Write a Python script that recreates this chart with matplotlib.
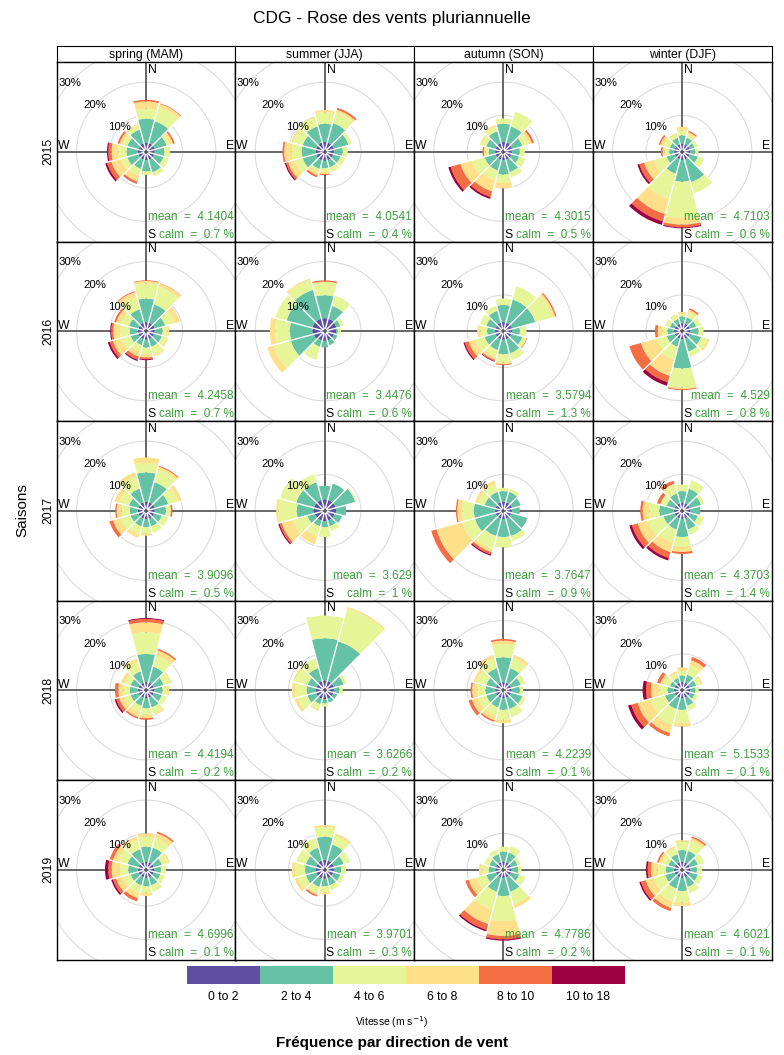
import matplotlib.pyplot as plt
import numpy as np
from matplotlib.patches import Wedge, Circle, Rectangle

plt.rcParams['font.family'] = ['Liberation Sans', 'DejaVu Sans']

# Data: wind roses, cumulative % per 30 degree sector (N, 30, 60, ... 330)
# each row = cumulative frequency at the top of each speed bin
seasons = ['spring (MAM)', 'summer (JJA)', 'autumn (SON)', 'winter (DJF)']
years = ['2015', '2016', '2017', '2018', '2019']
speed_bins = ['0 to 2', '2 to 4', '4 to 6', '6 to 8', '8 to 10', '10 to 18']
colours = ['#5E4FA2', '#66C2A5', '#E6F598', '#FEE08B', '#F46D43', '#9E0142']
directions = np.arange(0, 360, 30)

mean_speed = [[4.1404, 4.0541, 4.3015, 4.7103],
              [4.2458, 3.4476, 3.5794, 4.529],
              [3.9096, 3.629, 3.7647, 4.3703],
              [4.4194, 3.6266, 4.2239, 5.1533],
              [4.6996, 3.9701, 4.7786, 4.6021]]
calm_pct = [['0.7', '0.4', '0.5', '0.6'],
            ['0.7', '0.6', '1.3', '0.8'],
            ['0.5', '1', '0.9', '1.4'],
            ['0.2', '0.2', '0.1', '0.1'],
            ['0.1', '0.3', '0.2', '0.1']]

spring_2015 = [[1.8, 9.0, 12.0, 14.2, 14.7], [1.8, 8.6, 13.0, 14.0, 14.2], [1.8, 5.5, 6.5, 7.5, 8.0],
               [1.6, 4.5, 6.0, 6.3], [1.6, 4.5, 5.8, 6.1], [1.6, 5.5, 6.8],
               [1.6, 5.0, 6.0, 6.1], [1.6, 4.5, 6.5, 8.4, 9.0, 9.1], [1.6, 5.0, 7.0, 10.0, 11.3, 11.9],
               [1.6, 5.0, 7.5, 9.5, 10.5, 10.9], [1.6, 5.0, 6.5, 7.5, 8.1], [1.8, 6.0, 7.5, 7.8]]
summer_2015 = [[2.0, 7.5, 11.0, 11.6], [2.0, 8.0, 11.5, 12.2, 12.8], [2.0, 6.5, 7.5],
               [1.8, 4.5, 6.0], [1.8, 4.0, 5.5], [1.8, 4.0, 5.5],
               [1.8, 4.0, 5.2, 5.8, 6.1], [1.8, 4.5, 5.5, 6.5, 7.1], [1.8, 6.0, 8.5, 10.5, 11.2, 11.6],
               [1.8, 6.0, 9.0, 11.3, 11.8], [1.8, 6.0, 9.0, 9.6], [2.0, 7.0, 10.0]]
autumn_2015 = [[2.0, 7.5, 9.1], [2.0, 7.0, 11.6], [1.8, 5.0, 7.0, 8.0, 8.6],
               [1.6, 4.0, 5.5], [1.6, 4.0, 6.0], [1.6, 5.5, 7.0, 7.1],
               [1.6, 6.0, 8.5, 10.1], [1.6, 5.0, 8.0, 11.5, 13.2, 13.8], [1.6, 5.0, 9.0, 12.5, 15.6, 16.3],
               [1.6, 3.5, 4.5, 5.0, 5.4], [1.6, 4.5, 6.0, 6.5], [1.8, 5.5, 7.0, 7.5]]
winter_2015 = [[1.5, 4.0, 5.5, 6.6], [1.5, 3.5, 4.5, 5.2, 5.6], [1.5, 3.0, 4.0],
               [1.5, 3.0, 4.0], [1.5, 4.0, 6.0], [1.5, 8.6, 12.0],
               [1.5, 8.1, 19.0, 21.0, 21.8, 22.1], [1.5, 6.0, 13.8, 18.5, 20.8, 21.9], [1.5, 4.0, 8.0, 11.0, 12.5, 13.1],
               [1.5, 3.0, 4.5, 5.0, 5.5], [1.5, 3.0, 5.0, 6.0, 6.5], [1.5, 3.5, 4.5, 5.0]]

spring_2016 = [[1.8, 8.9, 13.5, 14.2, 14.4], [1.8, 7.5, 13.0, 14.0, 14.1], [1.8, 5.0, 8.0, 9.6],
               [1.6, 4.0, 5.5, 6.0], [1.6, 4.0, 5.5, 6.0], [1.6, 4.0, 6.5, 7.0],
               [1.6, 4.0, 6.0, 7.0, 7.5, 7.8], [1.6, 3.5, 5.5, 7.0, 8.0, 8.4], [1.6, 4.0, 7.0, 9.5, 10.5, 11.1],
               [1.6, 4.0, 7.0, 9.0, 9.6, 9.9], [1.6, 4.5, 7.0, 8.5, 9.1], [1.8, 6.0, 10.0, 11.3, 11.6]]
summer_2016 = [[3.0, 9.9, 14.0, 14.0, 14.4], [3.0, 7.0, 10.1], [2.8, 4.0, 5.0],
               [2.5, 3.0, 4.0], [2.0, 3.1], [2.0, 3.5],
               [2.0, 4.0], [2.0, 4.0, 8.0, 8.1], [2.5, 9.7, 15.0, 17.0],
               [2.8, 9.6, 14.0, 15.6], [3.0, 11.0, 14.5], [3.0, 12.0, 15.0, 15.5]]
autumn_2016 = [[1.8, 7.0, 8.9], [1.8, 9.0, 13.1], [1.8, 9.0, 14.5, 15.2, 15.6],
               [1.6, 4.0, 6.0], [1.6, 5.0, 6.3, 6.3, 6.5], [1.6, 6.0, 8.1],
               [1.6, 6.0, 8.5, 9.0, 9.3], [1.6, 5.0, 7.0, 8.0, 8.4, 8.6], [1.6, 5.0, 8.0, 10.0, 11.2, 11.6],
               [1.6, 4.0, 6.0, 7.0], [1.6, 4.5, 6.5], [1.8, 5.5, 7.0]]
winter_2016 = [[1.5, 3.5, 4.5, 4.9], [1.5, 3.5, 5.0, 5.8, 6.3], [1.5, 3.5, 5.0],
               [1.5, 4.0, 5.5], [1.5, 5.0, 7.0, 7.6], [1.5, 5.5, 7.1],
               [1.5, 10.3, 16.0, 16.5, 16.8], [1.5, 4.0, 8.0, 13.0, 15.0, 16.1], [1.5, 4.0, 7.0, 12.0, 15.6],
               [1.5, 3.5, 5.0, 6.5, 7.3], [1.5, 3.0, 4.5], [1.5, 3.0, 4.5]]

spring_2017 = [[1.8, 10.6, 13.5, 15.1], [1.8, 8.0, 12.0, 12.8, 13.1], [1.8, 6.0, 9.0, 10.1],
               [1.6, 5.0, 6.5, 6.5, 7.0], [1.6, 4.0, 6.0], [1.6, 4.0, 6.0],
               [1.6, 4.0, 6.0, 6.6], [1.6, 4.0, 6.5, 7.6], [1.6, 4.0, 7.0, 9.5, 10.6],
               [1.6, 4.0, 6.5, 8.0, 8.4], [1.6, 4.5, 7.5, 9.0], [1.8, 6.0, 10.0, 11.1]]
summer_2017 = [[2.5, 6.6], [2.5, 7.6], [2.5, 8.6, 9.0],
               [2.5, 5.5], [2.2, 4.5], [2.2, 4.0, 5.5],
               [2.2, 4.0, 7.0], [2.2, 4.0, 7.0, 9.6], [2.2, 4.5, 9.0, 12.5, 13.2, 13.6],
               [2.5, 7.5, 13.0, 13.7], [2.5, 8.0, 13.0], [2.5, 8.0, 10.5]]
autumn_2017 = [[1.8, 5.0, 6.0], [1.8, 5.0, 6.0], [1.8, 4.5],
               [1.6, 4.0], [1.6, 6.6], [1.6, 7.0, 8.6],
               [1.6, 7.0, 10.1], [1.6, 7.0, 11.0, 12.0, 12.7, 13.1], [1.6, 8.0, 12.0, 20.0, 21.6],
               [1.6, 8.0, 11.5, 13.0, 13.4], [1.6, 5.0, 7.0, 8.0], [1.8, 5.0, 7.5, 8.5]]
winter_2017 = [[1.5, 5.0, 7.0], [1.5, 6.0, 8.6], [1.5, 5.0, 6.0],
               [1.5, 4.5], [1.5, 4.0, 6.0], [1.5, 5.0, 6.6],
               [1.5, 7.0, 10.0, 11.5, 12.1], [1.5, 5.0, 9.0, 12.0, 13.8, 14.6], [1.5, 5.0, 10.0, 13.0, 14.8, 15.6],
               [1.5, 6.0, 9.0, 11.0, 11.7], [1.5, 4.0, 6.0, 6.0, 7.0], [1.5, 4.5, 7.5, 7.5, 8.5]]

spring_2018 = [[1.5, 10.0, 16.5, 19.5, 20.5, 20.8], [1.5, 6.5, 10.0, 11.5, 12.0], [1.5, 4.5, 6.5, 7.0],
               [1.5, 4.0, 5.5, 6.0], [1.5, 4.0, 5.5], [1.5, 4.5, 6.5, 7.0],
               [1.5, 4.5, 6.5, 7.5, 8.0], [1.5, 4.0, 6.0, 7.5, 8.0], [1.5, 4.0, 6.0, 7.5, 8.5, 9.0],
               [1.5, 4.0, 6.0, 7.5, 8.5], [1.5, 4.0, 6.0, 7.0], [1.5, 5.0, 8.0, 9.0]]
summer_2018 = [[2.0, 14.7, 21.5, 21.5], [2.0, 14.3, 24.5, 25.0], [2.0, 5.0, 6.0],
               [1.8, 3.5, 4.5], [1.8, 3.0], [1.8, 3.0],
               [1.8, 3.0, 4.0], [1.8, 3.5, 5.0, 5.5], [1.8, 4.5, 7.5, 8.5],
               [1.8, 4.5, 8.0, 9.0], [1.8, 4.5, 8.5, 9.0], [2.0, 6.0, 9.0]]
autumn_2018 = [[1.5, 9.0, 13.0, 14.0, 14.5], [1.5, 6.0, 9.0, 10.0], [1.5, 4.5, 6.0],
               [1.5, 4.0, 5.0], [1.5, 5.0, 6.0], [1.5, 5.0, 7.5],
               [1.5, 5.0, 8.0, 9.0], [1.5, 4.5, 7.0, 8.5, 9.0], [1.5, 4.5, 7.0, 9.0, 10.0],
               [1.5, 4.5, 7.0, 8.5, 9.0], [1.5, 4.5, 7.5, 8.5], [1.5, 6.0, 9.0, 10.0]]
winter_2018 = [[1.5, 3.5, 5.0, 6.0], [1.5, 4.0, 7.0, 8.5, 9.5], [1.5, 3.5, 5.0, 5.5],
               [1.5, 3.0, 4.0], [1.5, 3.0, 4.0], [1.5, 4.0, 5.5],
               [1.5, 5.0, 9.0, 10.0], [1.5, 5.0, 10.0, 12.5, 13.5], [1.5, 4.5, 9.0, 13.0, 15.0, 16.0],
               [1.5, 3.5, 6.0, 8.5, 10.0, 11.0], [1.5, 3.0, 5.0, 6.0, 7.0], [1.5, 3.0, 4.5, 5.0]]

spring_2019 = [[1.5, 6.0, 9.0, 10.0], [1.5, 6.0, 9.0, 10.5, 11.0], [1.5, 4.0, 6.0, 6.5],
               [1.5, 3.5, 5.0], [1.5, 3.5, 5.0], [1.5, 4.0, 6.0],
               [1.5, 4.0, 6.0, 7.0], [1.5, 4.0, 6.5, 8.0, 9.0], [1.5, 4.0, 6.5, 8.5, 9.5, 10.0],
               [1.5, 4.5, 7.0, 9.5, 10.5, 11.5], [1.5, 5.0, 8.0, 9.5, 10.5], [1.5, 5.5, 8.5, 9.5]]
summer_2019 = [[2.0, 9.0, 12.0, 12.5], [2.0, 7.0, 10.0, 10.5], [2.0, 5.0, 7.0],
               [1.8, 4.0, 5.5], [1.8, 4.0, 5.0], [1.8, 4.0, 5.5],
               [1.8, 4.0, 6.0, 6.5], [1.8, 4.5, 6.5, 7.0, 7.5], [1.8, 5.0, 7.5, 8.5],
               [1.8, 5.0, 8.0, 9.0], [1.8, 5.0, 8.0], [2.0, 6.0, 9.0]]
autumn_2019 = [[1.5, 4.5, 6.0], [1.5, 4.5, 6.5], [1.5, 3.5, 4.5],
               [1.5, 3.5, 4.5], [1.5, 4.0, 6.0], [1.5, 6.0, 10.0, 11.0],
               [1.5, 7.0, 14.5, 19.0, 20.0, 20.4], [1.5, 6.0, 11.5, 16.0, 17.8, 18.3], [1.5, 4.5, 7.5, 10.0, 11.0],
               [1.5, 3.5, 5.5, 6.5], [1.5, 3.5, 5.0], [1.5, 4.0, 5.5]]
winter_2019 = [[1.5, 5.0, 7.5, 8.0], [1.5, 5.0, 8.0, 9.0, 9.5], [1.5, 4.0, 6.0],
               [1.5, 3.5, 5.0], [1.5, 4.0, 5.5], [1.5, 4.5, 6.5],
               [1.5, 5.5, 9.0, 10.0], [1.5, 5.0, 9.0, 11.0, 12.0], [1.5, 4.5, 8.0, 10.5, 12.0, 12.5],
               [1.5, 4.0, 6.5, 8.5, 9.5, 10.0], [1.5, 3.5, 5.5, 6.5, 7.0], [1.5, 4.0, 6.0, 6.5]]

roses = [[spring_2015, summer_2015, autumn_2015, winter_2015],
         [spring_2016, summer_2016, autumn_2016, winter_2016],
         [spring_2017, summer_2017, autumn_2017, winter_2017],
         [spring_2018, summer_2018, autumn_2018, winter_2018],
         [spring_2019, summer_2019, autumn_2019, winter_2019]]

# Layout (pixels of the 784x1055 output)
W, H = 784, 1055
col_x = [57, 235.5, 414, 593, 771.5]
row_y = [62, 241.5, 421, 600.5, 780, 959.5]
px = 3.33    # pixels per percent
hole = 0.9   # centre hole, in percent units
green = '#3f9f3f'


def rect(x0, y0, x1, y1):
    return [x0 / W, 1 - y1 / H, (x1 - x0) / W, (y1 - y0) / H]


fig = plt.figure(figsize=(7.84, 10.55), dpi=100)

fig.text(0.5, 1 - 18 / H, 'CDG - Rose des vents pluriannuelle', ha='center', va='center', fontsize=12.5)
fig.text(22 / W, 1 - 510 / H, 'Saisons', rotation=90, ha='center', va='center', fontsize=11)

# strips
for j, s in enumerate(seasons):
    sax = fig.add_axes(rect(col_x[j], 46, col_x[j + 1], row_y[0]))
    sax.set_xticks([]); sax.set_yticks([])
    sax.text(0.5, 0.45, s, ha='center', va='center', fontsize=8.8, transform=sax.transAxes)
for i, y in enumerate(years):
    fig.text(48 / W, 1 - (row_y[i] + row_y[i + 1]) / 2 / H, y, rotation=90,
             ha='center', va='center', fontsize=8.8)

for i in range(len(years)):
    for j in range(len(seasons)):
        x0, x1 = col_x[j], col_x[j + 1]
        y0, y1 = row_y[i], row_y[i + 1]
        ax = fig.add_axes(rect(x0, y0, x1, y1))
        hw = (x1 - x0) / 2 / px
        hh = (y1 - y0) / 2 / px
        ax.set_xlim(-hw, hw)
        ax.set_ylim(-hh, hh)
        ax.set_xticks([]); ax.set_yticks([])

        for p in (10, 20, 30):
            ax.add_patch(Circle((0, 0), hole + p, fill=False, ec='#dcdcdc', lw=0.8, zorder=1))
            a = np.deg2rad(138)
            ax.text((hole + p) * np.cos(a), (hole + p) * np.sin(a), f'{p}%',
                    ha='center', va='center', fontsize=8.2, zorder=5)
        ax.plot([-hw, hw], [0, 0], color='#5a5a5a', lw=1.3, zorder=1)
        ax.plot([0, 0], [-hh, hh], color='#5a5a5a', lw=1.3, zorder=1)

        rose = roses[i][j]
        tops = []
        for d, cum in zip(directions, rose):
            cum = list(cum) + [cum[-1]] * (len(speed_bins) - len(cum))
            lo = 0.0
            for k, c in enumerate(cum):
                if c > lo:
                    ax.add_patch(Wedge((0, 0), hole + c, 90 - d - 15, 90 - d + 15,
                                       width=c - lo, fc=colours[k], ec='none', zorder=2))
                lo = c
            tops.append(hole + cum[-1])
        # white separators between sectors
        for k, d in enumerate(directions):
            rmax = max(tops[k], tops[(k + 1) % len(tops)]) + 0.3
            a = np.deg2rad(90 - d - 15)
            ax.plot([hole * np.cos(a), rmax * np.cos(a)], [hole * np.sin(a), rmax * np.sin(a)],
                    color='white', lw=1.0, zorder=3)

        ax.text(0.6, hh - 2.4, 'N', ha='left', va='center', fontsize=8.8, zorder=5)
        ax.text(-hw + 0.2, 1.7, 'W', ha='left', va='center', fontsize=8.8, zorder=5)
        ax.text(hw - 0.3, 1.7, 'E', ha='right', va='center', fontsize=8.8, zorder=5)
        ax.text(0.3, -hh + 2.0, 'S', ha='left', va='center', fontsize=8.8, zorder=5)
        ax.text(hw - 0.6, -hh + 7.5, f'mean  =  {mean_speed[i][j]}', color=green,
                ha='right', va='center', fontsize=8.5, zorder=5)
        ax.text(hw - 0.6, -hh + 2.0, f'calm  =  {calm_pct[i][j]} %', color=green,
                ha='right', va='center', fontsize=8.5, zorder=5)
        for sp in ax.spines.values():
            sp.set_linewidth(1.0)

# colour key
cax = fig.add_axes(rect(187, 966, 625, 984))
for k, (lab, c) in enumerate(zip(speed_bins, colours)):
    cax.add_patch(Rectangle((k, 0), 1, 1, fc=c, ec='none'))
    fig.text((187 + (k + 0.5) * (625 - 187) / 6) / W, 1 - 997 / H, lab,
             ha='center', va='center', fontsize=8.8)
cax.set_xlim(0, 6); cax.set_ylim(0, 1)
cax.axis('off')
fig.text(0.5, 1 - 1022 / H, 'Vitesse (m s$^{-1}$)', ha='center', va='center', fontsize=7.5)
fig.text(0.5, 1 - 1043 / H, 'Fréquence par direction de vent', ha='center', va='center',
         fontsize=11, fontweight='bold')

fig.savefig('out.png', dpi=100)
